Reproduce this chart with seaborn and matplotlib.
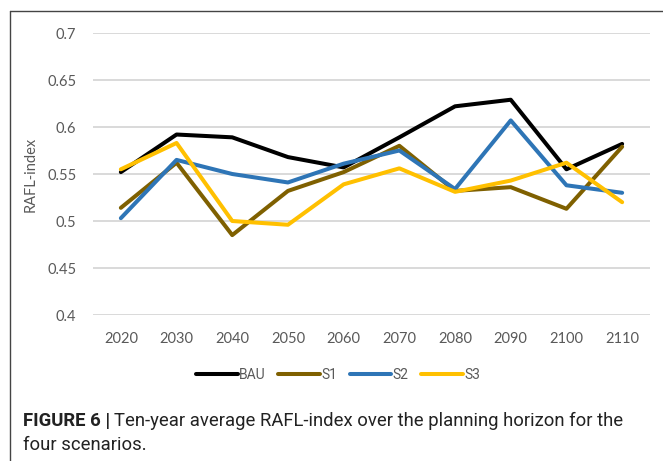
import pandas as pd
import matplotlib.pyplot as plt
import seaborn as sns
from matplotlib.lines import Line2D

# data
years = [2020, 2030, 2040, 2050, 2060, 2070, 2080, 2090, 2100, 2110]
bau = [0.552, 0.592, 0.589, 0.568, 0.557, 0.589, 0.622, 0.629, 0.555, 0.582]
s1 = [0.514, 0.562, 0.485, 0.532, 0.552, 0.580, 0.532, 0.536, 0.513, 0.579]
s2 = [0.503, 0.565, 0.550, 0.541, 0.561, 0.575, 0.534, 0.607, 0.538, 0.530]
s3 = [0.555, 0.583, 0.500, 0.496, 0.539, 0.556, 0.531, 0.543, 0.562, 0.520]
scenarios = ["BAU", "S1", "S2", "S3"]
colors = {"BAU": "#000000", "S1": "#7F6000", "S2": "#2E75B6", "S3": "#FFC000"}

df = pd.DataFrame({"Year": years * 4,
                   "RAFL": bau + s1 + s2 + s3,
                   "Scenario": [s for s in scenarios for _ in years]})

sns.set_style("white")
plt.rcParams["font.family"] = ["Lato", "DejaVu Sans"]

fig = plt.figure(figsize=(6.63, 4.61), dpi=100)
ax = fig.add_axes([93 / 663, 1 - 315 / 461, 557 / 663, 282 / 461])

sns.lineplot(data=df, x="Year", y="RAFL", hue="Scenario", palette=colors,
             linewidth=2.9, ax=ax, legend=False, zorder=3)

ax.set_xlim(2015, 2115)
ax.set_ylim(0.4, 0.7)
ax.set_xticks(years)
ax.set_yticks([0.4, 0.45, 0.5, 0.55, 0.6, 0.65, 0.7])
ax.set_yticklabels(["0.4", "0.45", "0.5", "0.55", "0.6", "0.65", "0.7"])
ax.yaxis.grid(True, color="#D9D9D9", linewidth=1.4, zorder=0)
ax.tick_params(axis="both", labelsize=10.5, colors="#595959", length=0)
ax.tick_params(axis="x", pad=12)
ax.tick_params(axis="y", pad=12)
for sp in ax.spines.values():
    sp.set_visible(False)
ax.set_xlabel("")
ax.set_ylabel("RAFL-index", fontsize=10.5, color="#595959", labelpad=7)

# legend under the plot
handles = [Line2D([], [], color=colors[s], linewidth=2.9) for s in scenarios]
leg = fig.legend(handles, scenarios, loc="center", bbox_to_anchor=(338 / 663, 1 - 375 / 461),
                 ncol=4, frameon=False, handlelength=3.0, handletextpad=0.1,
                 columnspacing=0.9, prop={"size": 10, "family": ["Roboto", "DejaVu Sans"]})
for t in leg.get_texts():
    t.set_color("#595959")

# frame around the figure panel
fig.add_artist(Line2D([10 / 663, 10 / 663], [0, 1 - 11 / 461], transform=fig.transFigure,
                      color="#444444", linewidth=1.0))
fig.add_artist(Line2D([10 / 663, 1], [1 - 11 / 461, 1 - 11 / 461], transform=fig.transFigure,
                      color="#444444", linewidth=1.0))

# caption
cap_font = ["Roboto", "DejaVu Sans"]
bold = fig.text(23 / 663, 1 - 421 / 461, "FIGURE 6 |", fontsize=13.3, fontweight="bold",
                family=cap_font, color="#222222", va="center")
fig.canvas.draw()
bb = bold.get_window_extent().transformed(fig.transFigure.inverted())
fig.text(bb.x1 + 4 / 663, 1 - 421 / 461,
         "Ten-year average RAFL-index over the planning horizon for the",
         fontsize=13.3, family=cap_font, color="#222222", va="center")
fig.text(23 / 663, 1 - 445 / 461, "four scenarios.", fontsize=13.3, family=cap_font,
         color="#222222", va="center")

fig.savefig("out.png", dpi=100)
